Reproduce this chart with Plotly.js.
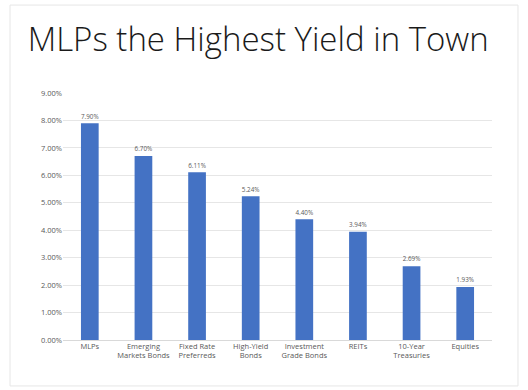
<!DOCTYPE html>
<html><head><meta charset="utf-8">
<script src="https://cdn.plot.ly/plotly-3.0.1.min.js"></script>
<style>html,body{margin:0;padding:0;background:#fff}#chart{width:528px;height:390px}</style>
</head><body><div id="chart"></div>
<script>
const categories = ["MLPs","Emerging<br>Markets Bonds","Fixed Rate<br>Preferreds","High-Yield<br>Bonds","Investment<br>Grade Bonds","REITs","10-Year<br>Treasuries","Equities"];
const yields = [7.90, 6.70, 6.11, 5.24, 4.40, 3.94, 2.69, 1.93];
const yTicks = [0,1,2,3,4,5,6,7,8,9];
const yTickText = ["0.00%","1.00%","2.00%","3.00%","4.00%","5.00%","6.00%","7.00%","8.00%","9.00%"];

const trace = {
  type: 'bar', x: categories, y: yields,
  marker: {color: '#4472C4'},
  texttemplate: '%{y:.2f}%', textposition: 'outside', cliponaxis: false,
  textfont: {family: 'Open Sans, sans-serif', size: 7.5, color: '#595959'},
  hoverinfo: 'none'
};
const layout = {
  width: 528, height: 390,
  margin: {l: 63, r: 36, t: 93, b: 50},
  paper_bgcolor: '#fff', plot_bgcolor: '#fff',
  bargap: 0.67,
  showlegend: false,
  title: {text: 'MLPs the Highest Yield in Town', x: 0.489, xref: 'container', xanchor: 'center', y: 0.9, yanchor: 'middle',
          font: {family: 'Open Sans, sans-serif', size: 33, weight: 300, color: '#1a1a1a'}},
  xaxis: {tickfont: {family: 'Open Sans, sans-serif', size: 7.5, color: '#595959'}, showline: false, ticks: '', fixedrange: true},
  yaxis: {range: [0, 9], tickmode: 'array', tickvals: yTicks, ticktext: yTickText, gridcolor: '#e6e6e6', gridwidth: 1,
          zeroline: true, zerolinecolor: '#d9d9d9', zerolinewidth: 1,
          tickfont: {family: 'Open Sans, sans-serif', size: 7.5, color: '#595959'}, ticks: '', ticklen: 0, fixedrange: true},
  shapes: [{type: 'rect', xref: 'paper', yref: 'paper', x0: -0.1235, x1: 1.0606, y0: -0.186, y1: 1.356,
            line: {color: '#e6e6e6', width: 1}, fillcolor: 'rgba(0,0,0,0)', layer: 'below'}]
};
Plotly.newPlot('chart', [trace], layout, {displayModeBar: false, staticPlot: true});
</script></body></html>
